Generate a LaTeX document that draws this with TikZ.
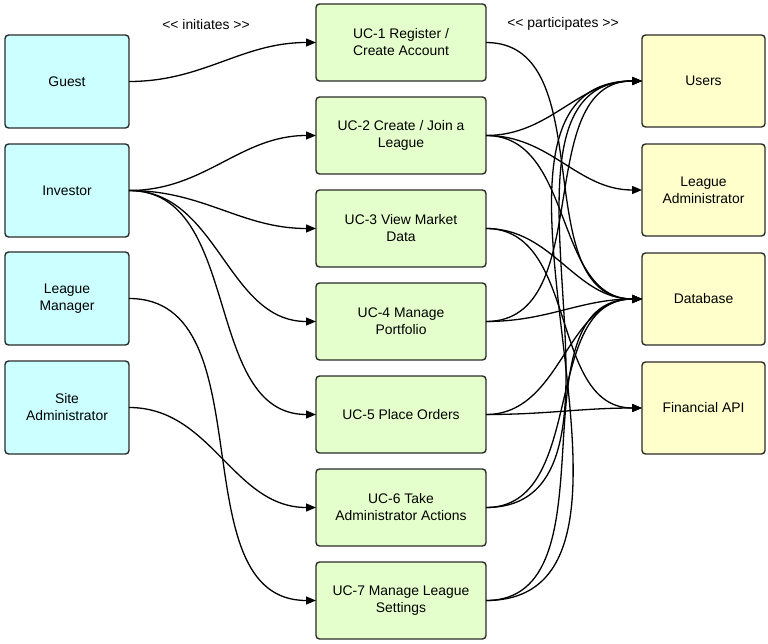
\documentclass[tikz,border=0pt]{standalone}
\usepackage{fontspec}
\setmainfont{Liberation Sans}
\usetikzlibrary{arrows.meta}
\definecolor{actorfill}{HTML}{CCFFFF}
\definecolor{casefill}{HTML}{E5FFCC}
\definecolor{sysfill}{HTML}{FFFFCC}
\definecolor{edge}{HTML}{2B2B2B}
% stereotype brackets, kept as two separate characters
\newcommand{\stl}{<\kern0pt<}
\newcommand{\str}{>\kern0pt>}
\begin{document}
\begin{tikzpicture}[x=1pt,y=-1pt,
  box/.style={draw=edge, line width=1.4pt, rounded corners=3.5pt, align=center,
    font=\fontsize{13.9}{17}\selectfont, inner sep=0pt, outer sep=0pt},
  actor/.style={box, fill=actorfill, minimum width=124pt, minimum height=93pt},
  usecase/.style={box, fill=casefill, minimum width=170pt, minimum height=77pt},
  system/.style={box, fill=sysfill, minimum width=123pt, minimum height=92pt},
  link/.style={line width=1.3pt, -{Triangle[length=10pt,width=8pt]}},
  heading/.style={font=\fontsize{13.9}{17}\selectfont, inner sep=0pt}]
\useasboundingbox (0,0) rectangle (768,644);

% actors
\node[actor] (guest)    at (67,81.5)  {Guest};
\node[actor] (investor) at (67,190.5) {Investor};
\node[actor] (manager)  at (67,298.5) {League\\Manager};
\node[actor] (siteadm)  at (67,407.5) {Site\\Administrator};

% use cases
\node[usecase] (uc1) at (401,42.5)  {UC-1 Register /\\Create Account};
\node[usecase] (uc2) at (401,135.5) {UC-2 Create / Join a\\League};
\node[usecase] (uc3) at (401,228.5) {UC-3 View Market\\Data};
\node[usecase] (uc4) at (401,321.5) {UC-4 Manage\\Portfolio};
\node[usecase] (uc5) at (401,414.5) {UC-5 Place Orders};
\node[usecase] (uc6) at (401,507.5) {UC-6 Take\\Administrator Actions};
\node[usecase] (uc7) at (401,600.5) {UC-7 Manage League\\Settings};

% participating systems
\node[system] (users)  at (703.5,81)  {Users};
\node[system] (ladmin) at (703.5,190) {League\\Administrator};
\node[system] (db)     at (703.5,299) {Database};
\node[system] (fin)    at (703.5,408) {Financial API};

% headings
\node[heading] (initlbl) at (206,25) {\stl{} initiates \str};
\node[heading] (partlbl) at (563,24) {\stl{} participates \str};

% initiates
\draw[link] (guest.east)    to[out=0,in=180] (uc1.west);
\draw[link] (investor.east) to[out=0,in=180] (uc2.west);
\draw[link] (investor.east) to[out=0,in=180] (uc3.west);
\draw[link] (investor.east) to[out=0,in=180] (uc4.west);
\draw[link] (investor.east) to[out=0,in=180] (uc5.west);
\draw[link] (manager.east)  to[out=0,in=180] (uc7.west);
\draw[link] (siteadm.east)  to[out=0,in=180] (uc6.west);

% participates
\draw[link] (uc1.east) to[out=0,in=180] (db.west);
\draw[link] (uc2.east) to[out=0,in=180] (users.west);
\draw[link] (uc2.east) to[out=0,in=180] (ladmin.west);
\draw[link] (uc2.east) to[out=0,in=180] (db.west);
\draw[link] (uc3.east) to[out=0,in=180] (db.west);
\draw[link] (uc3.east) to[out=0,in=180] (fin.west);
\draw[link] (uc4.east) to[out=0,in=180] (users.west);
\draw[link] (uc4.east) to[out=0,in=180] (db.west);
\draw[link] (uc5.east) to[out=0,in=180] (db.west);
\draw[link] (uc5.east) to[out=0,in=180] (fin.west);
\draw[link] (uc6.east) to[out=0,in=180] (users.west);
\draw[link] (uc6.east) to[out=0,in=180] (db.west);
\draw[link] (uc7.east) to[out=0,in=180] (users.west);
\draw[link] (uc7.east) to[out=0,in=180] (db.west);
\end{tikzpicture}
\end{document}
